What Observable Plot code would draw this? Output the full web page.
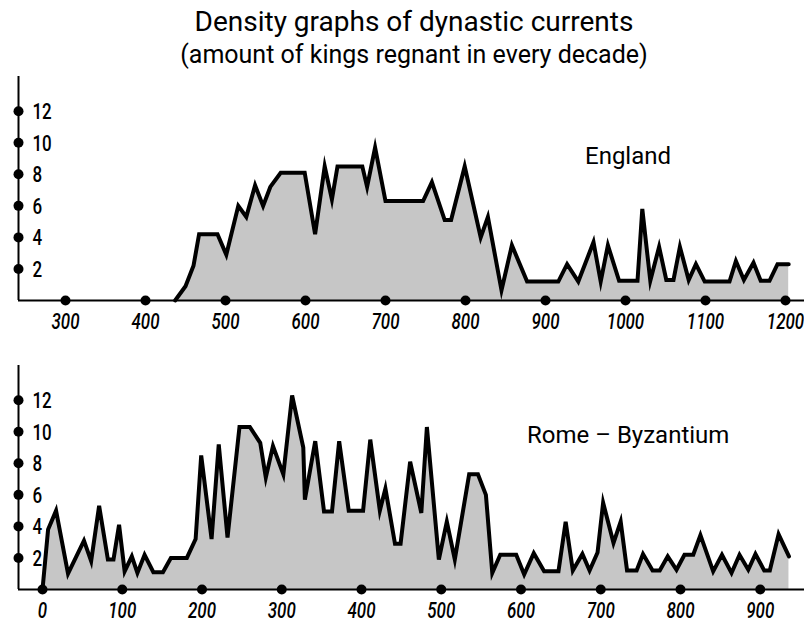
<!DOCTYPE html>
<html>
<head>
<meta charset="utf-8">
<script src="https://cdn.jsdelivr.net/npm/d3@7"></script>
<script src="https://cdn.jsdelivr.net/npm/@observablehq/plot@0.6"></script>
<style>
  html, body { margin: 0; padding: 0; background: #fff; }
  #wrap { position: relative; width: 804px; height: 624px; overflow: hidden; }
  .abs { position: absolute; }
  .ttl { font-family: Roboto, "Liberation Sans", sans-serif; color: #000; white-space: nowrap; }
</style>
</head>
<body>
<div id="wrap">
  <div class="abs ttl" id="title" style="left:0;width:828px;text-align:center;top:5px;font-size:28px;">Density graphs of dynastic currents</div>
  <div class="abs ttl" id="subtitle" style="left:0;width:828px;text-align:center;top:40px;font-size:25px;">(amount of kings regnant in every decade)</div>
  <div class="abs" id="p1" style="left:0;top:0;"></div>
  <div class="abs" id="p2" style="left:0;top:340px;"></div>
  <div class="abs ttl" id="lab1" style="left:585px;top:142px;font-size:24px;">England</div>
  <div class="abs ttl" id="lab2" style="left:527px;top:421px;font-size:24px;">Rome – Byzantium</div>
</div>
<script>
// England: year, kings regnant
const englandYears = [437,450,460,467,490,501,516,526,537,547,556,569,599,612,624,633,640,671,677,687,700,747,758,774,782,799,819,828,845,858,877,916,927,941,960,969,978,992,1015,1021,1031,1042,1051,1060,1068,1079,1088,1099,1130,1138,1148,1160,1169,1180,1190,1204];
const englandKings = [0,0.9,2.2,4.2,4.2,2.9,6.0,5.3,7.3,6.0,7.2,8.1,8.1,4.2,8.5,6.4,8.5,8.5,7.2,9.7,6.3,6.3,7.5,5.1,5.1,8.5,4.0,5.3,0.65,3.5,1.2,1.2,2.3,1.2,3.7,1.2,3.5,1.25,1.25,5.8,1.25,3.4,1.3,1.3,3.4,1.3,2.3,1.2,1.2,2.5,1.3,2.4,1.25,1.25,2.3,2.3];

// Rome – Byzantium: year, kings regnant
const romeYears = [0,7,17,32,52,61,71,82,89,96,103,112,119,128,139,151,161,181,192,199,212,221,232,247,260,273,280,289,302,313,327,329,342,353,363,372,384,402,411,423,430,442,449,461,475,482,497,507,517,535,546,556,564,574,594,604,616,629,647,656,665,677,686,696,703,716,725,733,745,753,765,774,784,795,805,816,825,841,852,864,874,885,894,905,912,923,936];
const romeKings = [0,3.8,5.0,1.0,3.1,1.8,5.3,1.9,1.9,4.1,1.15,2.1,1.05,2.2,1.1,1.1,2.0,2.0,3.2,8.5,3.2,9.2,3.3,10.3,10.3,9.3,7.1,9.1,7.3,12.3,9.0,5.7,9.4,4.95,4.95,9.4,5.0,5.0,9.5,5.0,6.4,2.9,2.9,8.1,4.85,10.3,1.9,4.3,1.9,7.3,7.3,6.0,1.05,2.2,2.2,0.95,2.3,1.15,1.15,4.3,1.2,2.25,1.2,2.35,5.5,2.95,4.3,1.2,1.2,2.25,1.2,1.2,2.1,1.25,2.2,2.2,3.45,1.15,2.2,1.05,2.2,1.25,2.25,1.2,1.2,3.5,2.1];

const englandTicks = [300,400,500,600,700,800,900,1000,1100,1200];
const romeTicks = [0,100,200,300,400,500,600,700,800,900];
const yTicks = [2,4,6,8,10,12];
const yMax = 14.2;

const england = englandYears.map((x, i) => ({x, y: englandKings[i]}));
const rome = romeYears.map((x, i) => ({x, y: romeKings[i]}));

const numFont = 'Roboto, "Liberation Sans", sans-serif';

function panel(data, xTicks, xDomain, opts) {
  const x0 = xDomain[0];
  const svg = Plot.plot({
    width: 804,
    height: opts.height,
    marginLeft: 18,
    marginRight: 0,
    marginTop: opts.marginTop,
    marginBottom: opts.marginBottom,
    x: {domain: xDomain, axis: null},
    y: {domain: [0, yMax], axis: null},
    style: {background: "transparent", overflow: "visible"},
    marks: [
      Plot.areaY(data, {x: "x", y: "y", fill: "#c6c6c6"}),
      Plot.ruleY([0], {stroke: "#000", strokeWidth: 2}),
      Plot.ruleX([x0], {y1: 0, y2: yMax, stroke: "#000", strokeWidth: 2}),
      Plot.lineY(data, {x: "x", y: "y", stroke: "#000", strokeWidth: 4, strokeLinejoin: "miter", strokeMiterlimit: 6}),
      Plot.dot(xTicks, {x: d => d, y: 0, r: 5, fill: "#000"}),
      Plot.dot(yTicks, {x: x0, y: d => d, r: 5, fill: "#000"}),
      Plot.text(xTicks, {x: d => d, y: 0, text: d => String(d), dy: 21, fontSize: 22, fontWeight: 500, fontStyle: "italic", fontFamily: numFont, fill: "#000", lineAnchor: "middle"}),
      Plot.text(yTicks, {x: x0, y: d => d, text: d => String(d), dx: 14, dy: 1, textAnchor: "start", fontSize: 22, fontWeight: 500, fontFamily: numFont, fill: "#000", lineAnchor: "middle"})
    ]
  });
  // condense the numeric labels horizontally (the original uses a condensed face)
  svg.querySelectorAll('g[aria-label="text"] text').forEach(t => {
    const tr = t.getAttribute("transform") || "";
    const xAttr = t.getAttribute("x");
    if (xAttr != null) {
      const x = +xAttr, y = +(t.getAttribute("y") || 0);
      t.removeAttribute("x"); t.removeAttribute("y");
      t.setAttribute("transform", `${tr} translate(${x},${y}) scale(0.77,1)`);
    } else {
      t.setAttribute("transform", `${tr} scale(0.77,1)`);
    }
  });
  return svg;
}

document.getElementById("p1").appendChild(
  panel(england, englandTicks, [241.25, 1223.75], {height: 340, marginTop: 76, marginBottom: 40})
);
document.getElementById("p2").appendChild(
  panel(rome, romeTicks, [-30.1, 955.5], {height: 284, marginTop: 25, marginBottom: 35})
);
</script>
</body>
</html>
